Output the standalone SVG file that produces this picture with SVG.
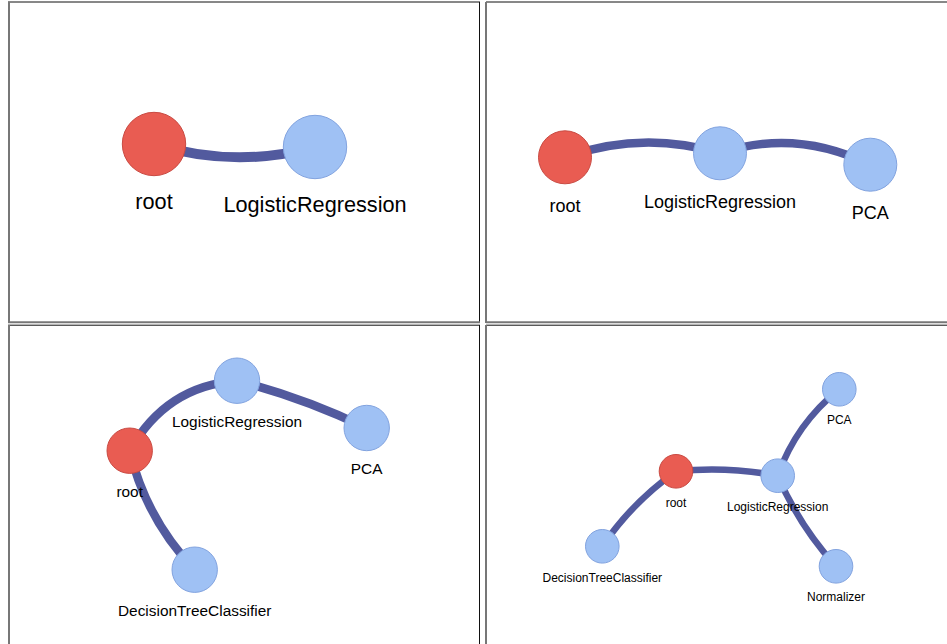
<svg xmlns="http://www.w3.org/2000/svg" width="947" height="644" viewBox="0 0 947 644">
<style>
.bt{stroke:#111;stroke-width:1;fill:none}
.bg{stroke:#777;stroke-width:2;fill:none}
.edge{fill:none;stroke:#525a9e;stroke-linecap:butt}
.root{fill:#e95c52;stroke:#c94a42;stroke-width:1}
.leaf{fill:#9fc1f4;stroke:#82a3df;stroke-width:1}
text{font-family:"Liberation Sans",Arial,sans-serif;fill:#000;text-anchor:middle}
.f1{font-size:21.7px}
.f2{font-size:18px}
.f3{font-size:15.4px}
.f4{font-size:12px}
</style>
<rect width="947" height="644" fill="#fff"/>
<g id="frames">
<line class="bt" x1="8" y1="2" x2="480" y2="2"/>
<line class="bt" x1="479.5" y1="2" x2="479.5" y2="323"/>
<line class="bg" x1="9" y1="2" x2="9" y2="323"/>
<line class="bg" x1="8" y1="322.3" x2="480" y2="322.3"/>
<line class="bt" x1="486" y1="2" x2="947" y2="2"/>
<line class="bg" x1="486" y1="2" x2="486" y2="323"/>
<line class="bg" x1="486" y1="322.3" x2="947" y2="322.3"/>
<line class="bt" x1="8" y1="325.2" x2="480" y2="325.2"/>
<line class="bt" x1="479.5" y1="325" x2="479.5" y2="644"/>
<line class="bg" x1="9" y1="325" x2="9" y2="644"/>
<line class="bt" x1="486" y1="325.2" x2="947" y2="325.2"/>
<line class="bg" x1="486" y1="325" x2="486" y2="644"/>
</g>
<g id="connectors">
<path class="edge" stroke-width="10" d="M154,144 Q234.5,169 315,147"/>
<path class="edge" stroke-width="8.5" d="M565,157.3 Q642.5,130 720,153.3"/>
<path class="edge" stroke-width="8.5" d="M720,153.3 Q795,128 870.3,164.7"/>
<path class="edge" stroke-width="8.5" d="M129.7,450.7 Q166,386 237,380.7"/>
<path class="edge" stroke-width="8.5" d="M237,380.7 Q301.8,397 366.7,428"/>
<path class="edge" stroke-width="8.5" d="M129.7,450.7 Q146,519 194.7,569.7"/>
<path class="edge" stroke-width="6.5" d="M676,471.3 Q726.8,466 777.7,475.7"/>
<path class="edge" stroke-width="6.5" d="M777.7,475.7 Q796.3,423.6 839.3,389.3"/>
<path class="edge" stroke-width="6.5" d="M777.7,475.7 Q799.2,525.9 836,566.3"/>
<path class="edge" stroke-width="6.5" d="M676,471.3 Q632.4,502.1 602.3,546.3"/>
</g>
<g id="p1-root"><circle class="root" cx="154" cy="144" r="31.7"/><text class="f1" x="154" y="209">root</text></g>
<g id="p1-LogisticRegression"><circle class="leaf" cx="315" cy="147" r="31.7"/><text class="f1" x="315" y="212">LogisticRegression</text></g>
<g id="p2-root"><circle class="root" cx="565" cy="157.3" r="26.5"/><text class="f2" x="565" y="212.3">root</text></g>
<g id="p2-LogisticRegression"><circle class="leaf" cx="720" cy="153.3" r="26.5"/><text class="f2" x="720" y="208.3">LogisticRegression</text></g>
<g id="p2-PCA"><circle class="leaf" cx="870.3" cy="164.7" r="26.5"/><text class="f2" x="870.3" y="219.3">PCA</text></g>
<g id="p3-root"><circle class="root" cx="129.7" cy="450.7" r="22.7"/><text class="f3" x="129.7" y="497.3">root</text></g>
<g id="p3-LogisticRegression"><circle class="leaf" cx="237" cy="380.7" r="22.7"/><text class="f3" x="237" y="427">LogisticRegression</text></g>
<g id="p3-PCA"><circle class="leaf" cx="366.7" cy="428" r="22.7"/><text class="f3" x="366.7" y="474">PCA</text></g>
<g id="p3-DecisionTreeClassifier"><circle class="leaf" cx="194.7" cy="569.7" r="22.7"/><text class="f3" x="194.7" y="615.7">DecisionTreeClassifier</text></g>
<g id="p4-root"><circle class="root" cx="676" cy="471.3" r="16.8"/><text class="f4" x="676" y="506.7">root</text></g>
<g id="p4-LogisticRegression"><circle class="leaf" cx="777.7" cy="475.7" r="16.8"/><text class="f4" x="777.7" y="511.3">LogisticRegression</text></g>
<g id="p4-PCA"><circle class="leaf" cx="839.3" cy="389.3" r="16.8"/><text class="f4" x="839.3" y="424">PCA</text></g>
<g id="p4-DecisionTreeClassifier"><circle class="leaf" cx="602.3" cy="546.3" r="16.8"/><text class="f4" x="602.3" y="581.7">DecisionTreeClassifier</text></g>
<g id="p4-Normalizer"><circle class="leaf" cx="836" cy="566.3" r="16.8"/><text class="f4" x="836" y="601.3">Normalizer</text></g>
</svg>
